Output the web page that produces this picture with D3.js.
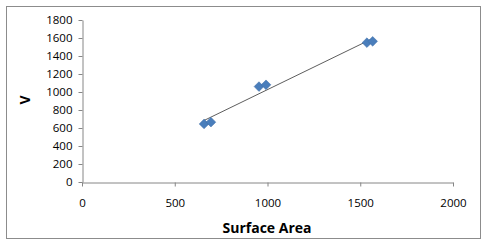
<!DOCTYPE html>
<html>
<head>
<meta charset="utf-8">
<script src="https://cdn.jsdelivr.net/npm/d3@7"></script>
<style>
  body { margin: 0; background: #fff; }
  text { font-family: "Open Sans", "Liberation Sans", sans-serif; }
</style>
</head>
<body>
<div id="graph"></div>
<script>
// data
var surfaceArea = [658, 695, 954, 992, 1536, 1567];
var volume = [645, 665, 1060, 1080, 1548, 1563];
var xTicks = [0, 500, 1000, 1500, 2000];
var yTicks = [0, 200, 400, 600, 800, 1000, 1200, 1400, 1600, 1800];

var width = 487, height = 244;

var svg = d3.select("#graph").append("svg")
    .attr("width", width)
    .attr("height", height);

// outer chart border
svg.append("rect")
    .attr("x", 6.5).attr("y", 6.5)
    .attr("width", 474).attr("height", 232)
    .attr("fill", "#fff")
    .attr("stroke", "#8c8c8c");

var x = d3.scaleLinear().domain([0, 2000]).range([82, 453]);
var y = d3.scaleLinear().domain([0, 1800]).range([182, 20]);

var xAxis = svg.append("g")
    .attr("transform", "translate(0,182.5)")
    .call(d3.axisBottom(x).tickValues(xTicks).tickFormat(d3.format("d"))
      .tickSize(4).tickPadding(12).tickSizeOuter(0));

var yAxis = svg.append("g")
    .attr("transform", "translate(82.5,0)")
    .call(d3.axisLeft(y).tickValues(yTicks).tickFormat(d3.format("d"))
      .tickSize(4).tickPadding(6).tickSizeOuter(0));

[xAxis, yAxis].forEach(function(a){
  a.selectAll("path, line").attr("stroke", "#868686");
  a.selectAll("text").attr("fill", "#000").style("font-size", "11.5px");
});

// trendline (least squares)
var n = surfaceArea.length;
var mx = d3.mean(surfaceArea), my = d3.mean(volume);
var sxy = 0, sxx = 0;
for (var i = 0; i < n; i++) {
  sxy += (surfaceArea[i] - mx) * (volume[i] - my);
  sxx += (surfaceArea[i] - mx) * (surfaceArea[i] - mx);
}
var slope = sxy / sxx, icpt = my - slope * mx;
var x0 = d3.min(surfaceArea), x1 = d3.max(surfaceArea);
svg.append("line")
    .attr("x1", x(x0)).attr("y1", y(icpt + slope * x0))
    .attr("x2", x(x1)).attr("y2", y(icpt + slope * x1))
    .attr("stroke", "#333")
    .attr("stroke-width", 0.8);

// markers
svg.selectAll("path.pt")
    .data(surfaceArea)
    .enter()
    .append("path")
    .attr("class", "pt")
    .attr("d", d3.symbol().type(d3.symbolDiamond2).size(60))
    .attr("transform", function(d, i){ return "translate(" + x(d) + "," + y(volume[i]) + ")"; })
    .attr("fill", "#4a7ebb")
    .attr("stroke", "#3e6ca6")
    .attr("stroke-width", 0.5);

// axis titles
svg.append("text")
    .attr("x", 267).attr("y", 233)
    .attr("text-anchor", "middle")
    .style("font-size", "14px").style("font-weight", "bold")
    .text("Surface Area");

svg.append("text")
    .attr("transform", "translate(30,100) rotate(-90)")
    .attr("text-anchor", "middle")
    .style("font-size", "14px").style("font-weight", "bold")
    .text("V");
</script>
</body>
</html>
